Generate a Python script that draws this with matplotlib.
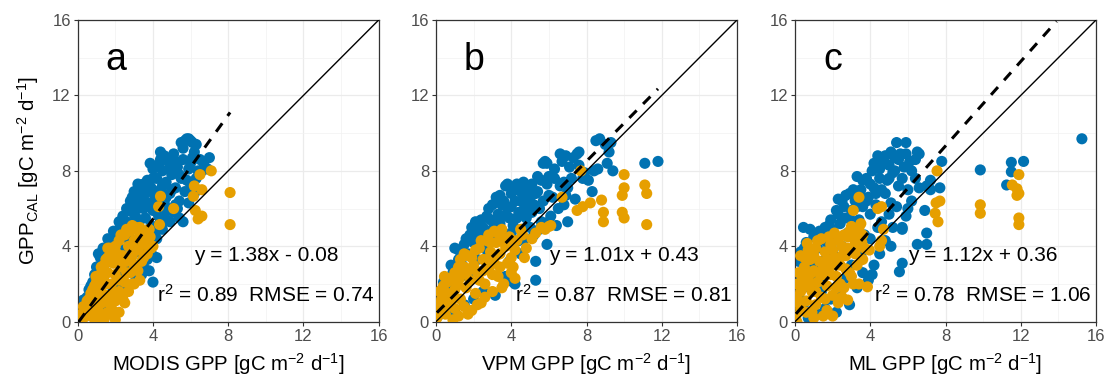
import matplotlib
matplotlib.use("Agg")
import matplotlib.pyplot as plt
import numpy as np

plt.rcParams['font.family'] = ['Liberation Sans', 'DejaVu Sans']
plt.rcParams['mathtext.fontset'] = 'custom'
plt.rcParams['mathtext.rm'] = 'Liberation Sans'
plt.rcParams['mathtext.it'] = 'Liberation Sans:italic'
plt.rcParams['mathtext.bf'] = 'Liberation Sans:bold'

BLUE = '#0072B2'
ORANGE = '#E69F00'

# ---------------- data ----------------
panel_letters = ['a', 'b', 'c']
x_labels = ['MODIS GPP [gC m$^{-2}$ d$^{-1}$]',
            'VPM GPP [gC m$^{-2}$ d$^{-1}$]',
            'ML GPP [gC m$^{-2}$ d$^{-1}$]']
y_label = 'GPP$_{\\mathrm{CAL}}$ [gC m$^{-2}$ d$^{-1}$]'
eq_texts = ['y = 1.38x - 0.08', 'y = 1.01x + 0.43', 'y = 1.12x + 0.36']
stat_texts = ['r$^2$ = 0.89  RMSE = 0.74', 'r$^2$ = 0.87  RMSE = 0.81',
              'r$^2$ = 0.78  RMSE = 1.06']
slopes = [1.38, 1.01, 1.12]
intercepts = [-0.08, 0.43, 0.36]
ticks = [0, 4, 8, 12, 16]

a_blue = [
    (0.05, 0.2), (0.15, 0.9), (0.3, 1.15), (0.4, 0.6), (0.5, 1.3), (0.6, 1.7), (0.7, 1.0), (0.8, 2.1),
    (0.9, 1.6), (1.0, 2.9), (1.1, 2.4), (1.2, 3.4), (1.35, 3.9), (1.4, 3.0), (1.5, 3.6), (1.6, 4.0),
    (1.7, 3.2), (1.8, 4.4), (1.9, 3.7), (2.0, 4.7), (2.1, 4.1), (2.2, 4.9), (2.3, 3.8), (2.4, 5.6),
    (2.5, 4.5), (2.6, 5.3), (2.7, 5.9), (2.8, 6.4), (2.9, 5.0), (3.0, 6.9), (3.0, 5.7), (3.1, 6.2),
    (3.2, 7.3), (3.3, 6.6), (3.3, 5.4), (3.4, 7.0), (3.5, 6.0), (3.6, 6.8), (3.6, 5.5), (3.7, 7.5),
    (3.8, 6.3), (3.85, 8.4), (3.9, 7.1), (4.0, 5.9), (4.0, 8.1), (4.1, 6.7), (4.2, 7.6), (4.3, 5.6),
    (4.4, 9.0), (4.4, 7.0), (4.5, 8.0), (4.6, 6.3), (4.7, 7.4), (4.8, 8.5), (4.9, 6.8), (5.0, 7.8),
    (5.1, 8.9), (5.2, 7.1), (5.3, 8.2), (5.4, 6.4), (5.5, 9.5), (5.5, 7.6), (5.6, 8.6), (5.7, 6.9),
    (5.8, 9.7), (5.9, 8.1), (6.0, 9.6), (6.0, 7.3), (6.1, 8.7), (6.3, 9.4), (6.4, 8.0), (6.5, 8.6),
    (6.7, 8.4), (6.9, 8.1), (7.0, 8.7), (6.2, 6.8), (5.6, 5.3), (5.4, 5.5), (5.1, 5.8), (4.7, 5.4),
    (4.5, 4.9), (4.2, 4.4), (3.9, 3.9), (3.7, 3.3), (3.5, 2.9), (3.8, 2.7), (4.0, 2.1), (3.2, 3.0),
    (3.4, 2.5), (3.0, 2.6), (2.8, 3.3), (2.6, 2.9), (2.4, 2.5), (2.2, 2.2), (2.0, 1.8), (1.8, 1.5),
    (1.6, 1.2), (1.4, 0.8), (1.2, 0.7), (1.0, 0.4), (0.2, 0.4), (4.1, 4.7), (4.8, 6.0), (5.2, 6.2),
    (3.5, 4.6), (2.7, 4.0), (2.5, 3.4), (3.3, 4.2), (3.9, 5.1), (4.4, 5.3),
    (1.1, 3.6), (1.3, 3.2), (1.6, 4.4), (1.9, 4.8), (2.2, 5.3), (2.4, 4.9), (2.6, 6.0), (2.9, 6.6),
    (3.1, 5.5), (3.2, 6.0), (3.4, 6.4), (3.5, 7.3), (3.7, 6.1), (3.8, 7.0), (4.0, 7.6), (4.1, 6.3),
    (4.3, 8.3), (4.5, 7.2), (4.6, 8.8), (4.7, 6.6), (4.9, 8.2), (5.0, 7.0), (5.2, 8.5), (5.4, 7.8),
    (5.6, 9.2), (5.8, 7.5), (6.0, 8.4), (6.2, 9.0), (6.3, 7.6), (6.6, 8.0), (5.9, 6.3), (5.3, 6.0),
    (4.9, 5.3), (4.6, 5.7), (4.3, 4.9), (3.9, 4.5), (3.6, 3.9), (4.2, 3.4), (3.4, 3.6), (2.9, 4.3),
    (0.7, 1.9), (0.9, 2.5), (0.3, 0.9), (0.15, 0.6), (1.3, 2.5), (2.3, 1.9), (3.1, 2.3), (4.0, 3.5),
    (5.7, 9.6), (5.9, 9.7), (6.1, 9.5), (4.4, 8.6),
]
a_orange = [
    (0.05, 0.1), (0.2, 0.4), (0.3, 0.8), (0.45, 0.3), (0.5, 1.1), (0.6, 0.6), (0.7, 1.5), (0.8, 0.9),
    (0.85, 0.2), (0.9, 1.9), (1.0, 1.3), (1.1, 2.4), (1.1, 0.6), (1.2, 1.7), (1.25, 2.9), (1.3, 0.3),
    (1.4, 2.2), (1.5, 3.3), (1.5, 1.4), (1.6, 2.6), (1.7, 3.9), (1.7, 1.0), (1.8, 2.0), (1.9, 3.1),
    (2.0, 0.1), (2.0, 2.5), (2.1, 3.6), (2.2, 1.6), (2.2, 4.3), (2.3, 2.9), (2.4, 3.5), (2.5, 2.1),
    (2.5, 4.6), (2.6, 3.2), (2.7, 4.0), (2.8, 2.6), (2.8, 4.8), (2.9, 3.5), (3.0, 4.3), (3.0, 2.0),
    (3.1, 5.0), (3.2, 3.8), (3.3, 4.6), (3.4, 3.2), (3.5, 4.1), (3.6, 4.8), (3.7, 3.6), (3.85, 4.5),
    (2.9, 2.0), (1.9, 0.3), (1.6, 0.5), (1.3, 1.0), (2.4, 1.2), (0.97, 2.4), (1.6, 3.9),
    (4.4, 6.65), (4.3, 6.1), (4.35, 5.15), (5.1, 6.0), (6.2, 7.2), (6.6, 7.0), (6.5, 7.8), (7.1, 8.0),
    (6.15, 6.65), (6.25, 5.9), (6.4, 5.45), (6.6, 5.6), (8.1, 6.85), (8.1, 5.15), (3.05, 4.95),
    (4.0, 4.0), (3.3, 2.2),
    (0.3, 0.2), (0.6, 1.2), (0.8, 1.7), (1.0, 2.1), (1.2, 2.5), (1.4, 3.0), (1.6, 3.4), (1.8, 3.6),
    (2.0, 4.0), (2.3, 4.6), (2.6, 4.9), (2.9, 5.1), (3.3, 5.0), (3.6, 4.4), (3.5, 3.4), (3.2, 2.7),
    (2.7, 1.6), (2.5, 1.0), (2.2, 0.5), (1.8, 0.7), (1.4, 0.1), (1.0, 0.0), (2.6, 2.6), (2.2, 2.2),
    (1.9, 1.5), (1.5, 2.0), (2.3, 3.3), (3.0, 3.0), (3.9, 3.9), (3.8, 4.9), (1.7, 1.4), (1.1, 1.1),
    (0.9, 0.6), (2.0, 1.1),
]
b_blue = [
    (0.1, 0.3), (0.3, 0.9), (0.5, 1.4), (0.7, 1.9), (0.4, 2.1), (0.9, 2.6), (1.0, 3.9), (1.2, 3.3),
    (1.4, 3.0), (1.5, 4.1), (1.7, 3.6), (1.8, 4.6), (2.0, 4.2), (2.1, 5.3), (2.3, 4.8), (2.5, 5.0),
    (2.6, 4.4), (2.8, 6.0), (2.9, 5.4), (3.0, 4.9), (3.2, 6.6), (3.3, 5.7), (3.4, 5.2), (3.5, 6.2),
    (3.6, 4.7), (3.7, 7.2), (3.8, 6.0), (3.9, 5.5), (4.0, 6.8), (4.1, 5.1), (4.2, 6.4), (4.3, 7.3),
    (4.4, 5.8), (4.5, 6.9), (4.6, 4.9), (4.65, 7.4), (4.7, 6.2), (4.8, 5.5), (4.9, 7.0), (5.0, 6.4),
    (5.1, 5.8), (5.2, 4.6), (5.3, 6.8), (5.4, 7.7), (5.5, 6.0), (5.6, 5.3), (5.7, 8.4), (5.8, 8.5),
    (5.9, 7.3), (6.0, 6.7), (6.1, 5.6), (6.3, 7.6), (6.4, 5.1), (6.6, 8.9), (6.7, 8.5), (6.8, 7.4),
    (7.0, 7.1), (7.0, 5.3), (7.1, 8.2), (7.3, 8.7), (7.5, 8.9), (7.6, 8.3), (7.8, 7.6), (8.3, 6.9),
    (8.4, 8.0), (8.5, 9.6), (8.7, 9.7), (9.0, 9.4), (9.1, 8.4), (9.3, 9.5), (9.4, 8.0), (11.1, 8.4),
    (11.8, 8.5), (6.2, 6.6), (6.9, 6.7), (5.9, 4.1), (5.3, 3.2), (5.3, 2.2), (4.1, 2.1), (3.15, 1.4),
    (3.7, 2.4), (4.2, 2.0), (2.5, 1.6), (2.0, 1.2), (1.5, 0.9), (1.0, 0.5), (4.5, 3.6), (3.9, 3.2),
    (6.5, 6.0), (5.0, 5.0), (4.4, 4.3),
    (1.2, 3.8), (1.6, 4.4), (1.9, 5.0), (2.2, 4.5), (2.4, 5.4), (2.7, 5.6), (3.0, 6.2), (3.1, 5.2),
    (3.4, 6.7), (3.6, 6.4), (3.8, 7.3), (4.0, 6.1), (4.2, 7.0), (4.3, 5.5), (4.5, 6.4), (4.6, 7.2),
    (4.8, 6.7), (4.9, 5.9), (5.1, 7.3), (5.2, 6.2), (5.4, 6.9), (5.6, 7.5), (5.7, 6.4), (5.9, 8.4),
    (6.0, 7.7), (6.3, 8.1), (6.6, 7.2), (6.9, 8.8), (7.2, 7.6), (7.6, 9.0), (7.9, 7.9), (8.1, 7.5),
    (8.6, 8.1), (9.2, 9.0), (3.5, 5.6), (4.0, 4.7), (3.2, 4.4), (2.7, 3.8), (2.2, 3.3), (1.7, 2.4),
    (4.7, 4.4), (5.5, 4.9), (6.8, 6.2), (7.4, 6.5), (6.0, 5.3), (0.6, 1.0), (0.2, 0.8), (0.8, 3.0),
]
b_orange = [
    (0.05, 0.2), (0.2, 0.6), (0.3, 1.2), (0.45, 2.4), (0.4, 1.9), (0.5, 0.4), (0.6, 1.5), (0.7, 0.9),
    (0.8, 2.3), (0.9, 1.4), (1.0, 0.7), (1.1, 1.9), (1.2, 2.9), (1.3, 1.2), (1.4, 2.5), (1.5, 0.8),
    (1.6, 1.8), (1.7, 3.5), (1.8, 2.2), (1.9, 0.6), (2.0, 3.0), (2.1, 1.5), (2.2, 2.6), (2.3, 3.9),
    (2.4, 1.0), (2.5, 3.3), (2.6, 2.0), (2.7, 4.3), (2.8, 2.8), (2.8, 4.6), (2.9, 3.7), (3.0, 1.6),
    (3.1, 3.1), (3.2, 4.2), (3.3, 2.4), (3.4, 3.6), (3.5, 4.9), (3.6, 2.0), (3.7, 4.0), (3.8, 3.1),
    (3.9, 4.5), (4.0, 2.6), (4.1, 2.9), (4.2, 3.8), (4.5, 4.9), (4.7, 3.4), (4.8, 3.9), (5.1, 4.4),
    (5.8, 4.9), (6.1, 5.1), (6.7, 6.6), (7.7, 8.0), (7.5, 5.9), (7.8, 6.1), (8.2, 6.3), (8.8, 6.45),
    (8.9, 5.8), (8.9, 5.3), (9.9, 5.8), (10.0, 5.5), (9.9, 6.7), (10.0, 7.1), (10.0, 7.8), (11.1, 7.25),
    (11.2, 6.8), (11.2, 5.15), (6.0, 5.05), (1.5, 3.6), (1.0, 2.6), (0.2, 1.6),
    (0.1, 0.9), (0.3, 1.7), (0.6, 2.1), (0.8, 1.1), (1.0, 1.7), (1.2, 2.2), (1.3, 3.3), (1.5, 2.9),
    (1.7, 2.7), (1.9, 3.4), (2.1, 3.8), (2.3, 2.2), (2.4, 4.3), (2.5, 2.7), (2.7, 3.3), (2.9, 4.2),
    (3.0, 2.5), (3.2, 3.5), (3.3, 4.7), (3.4, 2.9), (3.6, 4.4), (3.8, 4.2), (4.0, 3.4), (4.3, 4.3),
    (4.6, 4.6), (4.2, 2.3), (3.5, 1.8), (2.6, 1.3), (2.2, 0.9), (1.7, 0.4), (1.2, 0.3), (0.9, 0.1),
    (5.3, 4.7), (5.6, 5.0), (3.1, 4.8),
]
c_blue = [
    (0.1, 0.5), (0.2, 1.4), (0.3, 2.3), (0.3, 3.7), (0.45, 5.0), (0.6, 4.2), (0.5, 1.0), (0.7, 2.8),
    (0.8, 1.8), (0.9, 3.5), (1.0, 4.5), (1.1, 2.5), (1.2, 3.9), (1.3, 4.8), (1.4, 1.6), (1.5, 3.2),
    (1.6, 5.0), (1.7, 4.2), (1.8, 2.6), (1.9, 5.4), (2.0, 3.6), (2.1, 4.6), (2.2, 5.9), (2.3, 6.5),
    (2.4, 5.2), (2.5, 4.0), (2.6, 6.1), (2.7, 5.5), (2.8, 4.7), (2.9, 6.8), (3.0, 5.9), (3.1, 3.9),
    (3.2, 6.4), (3.3, 7.7), (3.4, 5.4), (3.5, 7.0), (3.6, 6.1), (3.7, 4.6), (3.8, 7.6), (3.9, 6.6),
    (4.0, 5.7), (4.1, 8.0), (4.2, 7.1), (4.3, 6.2), (4.4, 8.8), (4.5, 7.6), (4.6, 5.3), (4.7, 8.4),
    (4.8, 6.8), (4.9, 7.5), (5.0, 8.3), (5.1, 6.3), (5.2, 7.9), (5.3, 8.7), (5.4, 9.5), (5.5, 7.2),
    (5.6, 8.9), (5.7, 5.0), (5.8, 8.2), (5.9, 9.5), (6.0, 7.0), (6.1, 8.5), (6.2, 6.4), (6.4, 7.6),
    (6.5, 9.0), (6.6, 7.1), (7.0, 7.2), (7.2, 7.0), (7.2, 7.5), (7.7, 7.1), (7.8, 8.5), (7.0, 4.7),
    (7.0, 4.1), (6.5, 4.1), (5.7, 4.9), (5.7, 3.1), (5.55, 2.65), (4.5, 3.6), (3.9, 2.2), (4.2, 3.0),
    (3.3, 1.8), (2.9, 0.9), (2.2, 0.5), (3.6, 2.6), (4.8, 4.3), (5.2, 5.0), (9.85, 8.05), (11.25, 7.25),
    (11.5, 8.45), (11.5, 7.95), (12.15, 8.5), (15.25, 9.7), (6.9, 5.9),
    (0.2, 3.2), (0.5, 3.9), (0.8, 4.9), (1.0, 3.0), (1.3, 2.1), (1.5, 4.5), (1.8, 5.1), (2.0, 4.9),
    (2.3, 5.7), (2.5, 6.4), (2.7, 6.7), (2.9, 5.5), (3.1, 7.0), (3.3, 6.1), (3.5, 6.6), (3.6, 7.5),
    (3.8, 6.4), (4.0, 7.3), (4.2, 8.4), (4.3, 6.8), (4.5, 8.1), (4.6, 7.0), (4.8, 8.8), (5.0, 7.6),
    (5.1, 9.0), (5.3, 8.0), (5.5, 8.6), (5.7, 7.6), (5.9, 8.9), (6.2, 8.0), (6.4, 8.6), (6.6, 8.9),
    (6.0, 6.0), (5.4, 6.1), (5.0, 5.7), (4.4, 5.0), (4.0, 4.4), (3.5, 3.5), (3.0, 3.0), (2.7, 2.3),
    (2.4, 1.6), (1.9, 1.2), (1.6, 0.7), (1.2, 0.4), (0.7, 0.2), (4.1, 2.5), (5.1, 4.0), (5.9, 5.6),
]
c_orange = [
    (0.05, 0.3), (0.1, 1.3), (0.12, 2.0), (0.2, 2.6), (0.3, 3.5), (0.3, 0.7), (0.4, 1.8), (0.5, 2.9),
    (0.6, 1.1), (0.65, 4.15), (0.7, 2.3), (0.8, 3.3), (0.9, 0.5), (0.9, 1.6), (1.0, 2.7), (1.1, 3.9),
    (1.1, 0.9), (1.2, 2.1), (1.3, 3.2), (1.4, 4.4), (1.4, 1.3), (1.5, 2.5), (1.6, 3.7), (1.7, 0.6),
    (1.7, 1.9), (1.8, 2.9), (1.9, 4.1), (2.0, 1.4), (2.0, 0.3), (2.1, 3.4), (2.1, 4.7), (2.2, 2.4),
    (2.3, 1.0), (2.4, 3.0), (2.5, 4.0), (2.6, 1.8), (2.7, 3.5), (2.8, 1.15), (2.8, 4.5), (2.9, 2.6),
    (3.0, 3.8), (3.0, 5.05), (3.1, 2.0), (3.2, 4.2), (3.3, 3.0), (3.4, 5.0), (3.4, 2.0), (3.5, 5.2),
    (3.55, 4.2), (3.6, 3.3), (3.7, 3.9), (3.85, 1.85), (3.95, 3.8), (3.4, 6.6), (3.1, 5.9),
    (4.6, 6.1), (4.4, 6.0), (4.6, 4.3), (4.7, 4.9), (4.5, 4.0), (7.55, 8.0), (7.5, 6.3), (7.7, 6.4),
    (7.45, 5.75), (7.6, 5.3), (9.85, 6.2), (9.85, 5.75), (11.9, 7.8), (11.55, 7.25), (11.8, 7.05),
    (11.9, 6.8), (11.8, 6.7), (11.9, 5.5), (11.9, 5.15),
    (0.1, 0.0), (0.2, 1.0), (0.3, 1.6), (0.4, 2.3), (0.5, 3.4), (0.6, 2.6), (0.7, 3.8), (0.8, 2.0),
    (0.9, 2.6), (1.0, 3.5), (1.1, 1.6), (1.2, 4.3), (1.3, 2.6), (1.5, 3.0), (1.6, 1.2), (1.7, 3.3),
    (1.8, 4.5), (1.9, 2.5), (2.0, 3.8), (2.2, 3.0), (2.3, 4.3), (2.4, 2.0), (2.5, 3.5), (2.6, 4.6),
    (2.7, 2.8), (2.8, 3.9), (2.9, 4.8), (3.1, 4.5), (3.2, 3.6), (3.3, 4.8), (3.4, 4.0), (3.6, 4.6),
    (2.5, 1.3), (1.5, 0.3), (1.0, 0.2), (0.6, 0.5), (2.2, 1.8), (3.0, 2.4),
]
blue_sets = [a_blue, b_blue, c_blue]
orange_sets = [a_orange, b_orange, c_orange]

# ---------------- figure ----------------
W, H = 1106, 379
fig = plt.figure(figsize=(W / 100, H / 100), dpi=100)
lefts = [77.7, 436, 795]
aw = 301
bottom_px, top_px = 321.7, 20

for i in range(3):
    ax = fig.add_axes([lefts[i] / W, (H - bottom_px) / H, aw / W, (bottom_px - top_px) / H])
    ax.set_xlim(0, 16)
    ax.set_ylim(0, 16)
    ax.set_xticks(ticks)
    ax.set_yticks(ticks)
    ax.set_xticks([2, 6, 10, 14], minor=True)
    ax.set_yticks([2, 6, 10, 14], minor=True)
    ax.grid(which='major', color='#EBEBEB', lw=0.9, zorder=0)
    ax.grid(which='minor', color='#F2F2F2', lw=0.5, zorder=0)
    ax.set_axisbelow(True)
    ax.tick_params(which='major', direction='out', length=3, width=0.8, color='#333333',
                   labelsize=12, labelcolor='#4D4D4D', pad=2)
    ax.tick_params(which='minor', length=0)
    for sp in ax.spines.values():
        sp.set_color('#333333')
        sp.set_linewidth(0.9)

    bx = np.array([p[0] for p in blue_sets[i]])
    by = np.array([p[1] for p in blue_sets[i]])
    ox = np.array([p[0] for p in orange_sets[i]])
    oy = np.array([p[1] for p in orange_sets[i]])
    ax.scatter(bx, by, s=64, color=BLUE, edgecolors='none', zorder=2)
    ax.scatter(ox, oy, s=64, color=ORANGE, edgecolors='none', zorder=3)

    ax.plot([0, 16], [0, 16], color='black', lw=1.0, zorder=4)
    allx = np.concatenate([bx, ox])
    xs = np.linspace(allx.min(), allx.max(), 80)
    ys = slopes[i] * xs + intercepts[i]
    keep = ys <= 16
    ax.plot(xs[keep], ys[keep], color='black', lw=2.2, dashes=(3.4, 3.0), zorder=5)

    ax.text(2.0, 13.9, panel_letters[i], fontsize=27, ha='center', va='center')
    ax.text(10.0, 3.5, eq_texts[i], fontsize=15, ha='center', va='center')
    ax.text(10.0, 1.45, stat_texts[i], fontsize=15, ha='center', va='center')

    ax.set_xlabel(x_labels[i], fontsize=14.7, labelpad=5.5)
    if i == 0:
        ax.set_ylabel(y_label, fontsize=14.7, labelpad=8)

fig.savefig('out.png', dpi=100)
